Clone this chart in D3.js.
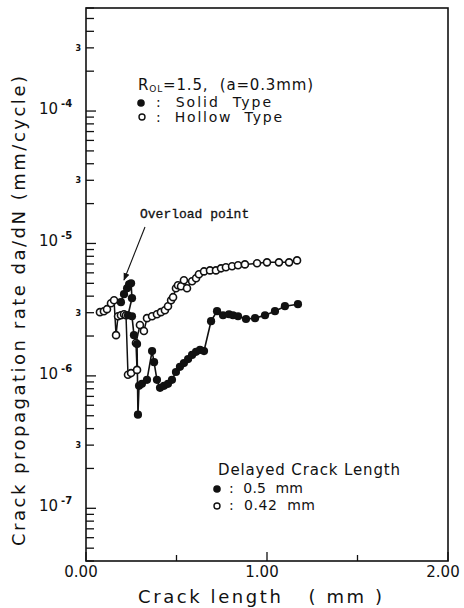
<!DOCTYPE html>
<html>
<head>
<meta charset="utf-8">
<script src="https://cdn.jsdelivr.net/npm/d3@7"></script>
<style>
  body { margin: 0; background: #fff; }
  svg text { font-family: "DejaVu Sans", sans-serif; fill: #111; }
</style>
</head>
<body>
<div id="chart"></div>
<script>
// crack length (mm) and da/dN (mm/cycle)
const hollowLength = [0.077, 0.099, 0.116, 0.138, 0.155, 0.166, 0.177, 0.193, 0.210, 0.221,
    0.232, 0.249, 0.282, 0.276, 0.298, 0.320, 0.337, 0.365, 0.392, 0.414,
    0.436, 0.453, 0.470, 0.481, 0.497, 0.508, 0.525, 0.541, 0.558, 0.586,
    0.608, 0.624, 0.652, 0.685, 0.718, 0.746, 0.773, 0.807, 0.840, 0.878,
    0.945, 1.000, 1.066, 1.122, 1.166];
const hollowRate = [3.03e-6, 3.08e-6, 3.19e-6, 3.54e-6, 3.73e-6, 2.03e-6, 2.82e-6, 2.87e-6, 2.92e-6, 2.87e-6,
    1.02e-6, 1.05e-6, 1.11e-6, 1.77e-6, 2.42e-6, 2.18e-6, 2.73e-6, 2.82e-6, 2.92e-6, 3.03e-6,
    3.13e-6, 3.36e-6, 3.73e-6, 3.93e-6, 4.59e-6, 4.83e-6, 4.75e-6, 5.27e-6, 4.59e-6, 5.18e-6,
    5.46e-6, 5.85e-6, 6.15e-6, 6.26e-6, 6.26e-6, 6.49e-6, 6.61e-6, 6.72e-6, 6.84e-6, 6.95e-6,
    7.08e-6, 7.20e-6, 7.20e-6, 7.20e-6, 7.45e-6];

const solidLength = [0.193, 0.210, 0.227, 0.238, 0.249, 0.254, 0.232, 0.254, 0.265, 0.282,
    0.287, 0.293, 0.309, 0.337, 0.365, 0.376, 0.392, 0.409, 0.431, 0.453,
    0.475, 0.497, 0.519, 0.541, 0.564, 0.586, 0.608, 0.630, 0.652, 0.691,
    0.724, 0.757, 0.790, 0.812, 0.840, 0.884, 0.934, 0.989, 1.044, 1.099, 1.171];
const solidRate = [3.60e-6, 4.14e-6, 4.59e-6, 4.92e-6, 5.00e-6, 3.86e-6, 2.87e-6, 2.82e-6, 2.03e-6, 1.74e-6,
    5.09e-7, 8.41e-7, 8.71e-7, 9.33e-7, 1.54e-6, 1.27e-6, 9.33e-7, 8.13e-7, 8.41e-7, 8.71e-7,
    9.33e-7, 1.07e-6, 1.17e-6, 1.25e-6, 1.34e-6, 1.44e-6, 1.52e-6, 1.57e-6, 1.54e-6, 2.59e-6,
    3.08e-6, 2.87e-6, 2.92e-6, 2.87e-6, 2.82e-6, 2.69e-6, 2.73e-6, 2.87e-6, 3.08e-6, 3.36e-6, 3.48e-6];

const xTickLabels = ["0.00", "1.00", "2.00"];
const xTickValues = [0, 1, 2];
const xMinorTicks = [0.5, 1.5];
const yDecadeExps = [-4, -5, -6, -7];
const yThreeTicks = [3e-4, 3e-5, 3e-6, 3e-7];

const WIDTH = 464;
const HEIGHT = 608;
const LEFT = 86, RIGHT = 448, TOP = 8, BOTTOM = 561;

const svg = d3.select('#chart').append('svg')
    .attr('width', WIDTH)
    .attr('height', HEIGHT);

const x = d3.scaleLinear().domain([0, 2]).range([LEFT, RIGHT]);
const y = d3.scaleLog().domain([4e-8, 6e-4]).range([BOTTOM, TOP]);

// frame
svg.append('rect')
    .attr('x', LEFT).attr('y', TOP)
    .attr('width', RIGHT - LEFT).attr('height', BOTTOM - TOP)
    .attr('fill', 'none').attr('stroke', '#111').attr('stroke-width', 1.6);

// y ticks (inward)
y.ticks().forEach(v => {
    const m = Math.round(v / Math.pow(10, Math.floor(Math.log10(v) + 1e-9)));
    const len = m === 1 ? 10 : 8;
    svg.append('line')
        .attr('x1', LEFT).attr('x2', LEFT + len)
        .attr('y1', y(v)).attr('y2', y(v))
        .attr('stroke', '#111').attr('stroke-width', 1.3);
});

yDecadeExps.forEach(e => {
    svg.append('text')
        .attr('x', 58).attr('y', y(Math.pow(10, e)) + 3)
        .attr('text-anchor', 'end')
        .attr('font-size', 15)
        .text('10');
    svg.append('text')
        .attr('x', 61).attr('y', y(Math.pow(10, e)) - 4)
        .attr('font-size', 10)
        .attr('font-weight', 'bold')
        .text('-' + Math.abs(e));
});

yThreeTicks.forEach(v => {
    svg.append('text')
        .attr('x', 81).attr('y', y(v) + 3)
        .attr('text-anchor', 'end')
        .attr('font-size', 8)
        .attr('font-weight', 'bold')
        .text('3');
});

// x ticks (inward)
xTickValues.forEach(v => {
    svg.append('line')
        .attr('x1', x(v)).attr('x2', x(v))
        .attr('y1', BOTTOM).attr('y2', BOTTOM - 9)
        .attr('stroke', '#111').attr('stroke-width', 1.3);
});
xMinorTicks.forEach(v => {
    svg.append('line')
        .attr('x1', x(v)).attr('x2', x(v))
        .attr('y1', BOTTOM).attr('y2', BOTTOM - 6)
        .attr('stroke', '#111').attr('stroke-width', 1.3);
});
svg.selectAll('.x-label')
    .data(xTickLabels)
    .join('text')
    .attr('class', 'x-label')
    .attr('x', (d, i) => x(xTickValues[i]) - 5)
    .attr('y', 577)
    .attr('text-anchor', 'middle')
    .attr('font-size', 15)
    .text(d => d);

// axis titles
svg.append('text')
    .attr('x', 260).attr('y', 603)
    .attr('text-anchor', 'middle')
    .attr('font-size', 18)
    .style('white-space', 'pre')
    .attr('textLength', 244)
    .attr('lengthAdjust', 'spacing')
    .text('Crack length   ( mm )');

svg.append('text')
    .attr('transform', 'translate(25,311) rotate(-90)')
    .attr('text-anchor', 'middle')
    .attr('font-size', 18)
    .attr('textLength', 470)
    .attr('lengthAdjust', 'spacing')
    .text('Crack propagation rate da/dN (mm/cycle)');

// series
const line = d3.line().x(d => x(d[0])).y(d => y(d[1]));
const hollow = hollowLength.map((v, i) => [v, hollowRate[i]]);
const solid = solidLength.map((v, i) => [v, solidRate[i]]);

svg.append('path').datum(hollow).attr('d', line)
    .attr('fill', 'none').attr('stroke', '#111').attr('stroke-width', 1.5);
svg.append('path').datum(solid).attr('d', line)
    .attr('fill', 'none').attr('stroke', '#111').attr('stroke-width', 1.6);

svg.selectAll('.hollow')
    .data(hollow)
    .join('circle')
    .attr('class', 'hollow')
    .attr('cx', d => x(d[0])).attr('cy', d => y(d[1]))
    .attr('r', 3.5)
    .attr('fill', '#fff').attr('stroke', '#111').attr('stroke-width', 1.6);

svg.selectAll('.solid')
    .data(solid)
    .join('circle')
    .attr('class', 'solid')
    .attr('cx', d => x(d[0])).attr('cy', d => y(d[1]))
    .attr('r', 4.1)
    .attr('fill', '#111');

// overload annotation
svg.append('text')
    .attr('x', 140).attr('y', 218)
    .style('font-family', '"Liberation Mono", monospace')
    .attr('font-size', 13)
    .attr('stroke', '#111').attr('stroke-width', 0.3)
    .text('Overload point');

const defs = svg.append('defs');
defs.append('marker')
    .attr('id', 'arrow')
    .attr('viewBox', '0 0 10 10')
    .attr('refX', 9).attr('refY', 5)
    .attr('markerWidth', 7).attr('markerHeight', 7)
    .attr('orient', 'auto')
    .append('path')
    .attr('d', 'M0,1 L10,5 L0,9 Z')
    .attr('fill', '#111');

svg.append('line')
    .attr('x1', 145).attr('y1', 227)
    .attr('x2', 124).attr('y2', 280)
    .attr('stroke', '#111').attr('stroke-width', 1.1)
    .attr('marker-end', 'url(#arrow)');

// legend 1
const leg1 = svg.append('text').attr('x', 138).attr('y', 90).attr('font-size', 15)
    .style('white-space', 'pre')
    .attr('textLength', 175).attr('lengthAdjust', 'spacing');
leg1.append('tspan').text('R');
leg1.append('tspan').attr('font-size', 9).attr('dy', 2).text('OL');
leg1.append('tspan').attr('dy', -2).text('=1.5,  (a=0.3mm)');

svg.append('circle').attr('cx', 141).attr('cy', 103).attr('r', 3.8).attr('fill', '#111');
svg.append('text').attr('x', 156).attr('y', 107).attr('font-size', 14)
    .style('white-space', 'pre')
    .attr('textLength', 115).attr('lengthAdjust', 'spacing')
    .text(':  Solid  Type');
svg.append('circle').attr('cx', 142).attr('cy', 117).attr('r', 3).attr('fill', '#fff')
    .attr('stroke', '#111').attr('stroke-width', 1.4);
svg.append('text').attr('x', 156).attr('y', 122).attr('font-size', 14)
    .style('white-space', 'pre')
    .attr('textLength', 126).attr('lengthAdjust', 'spacing')
    .text(':  Hollow  Type');

// legend 2
svg.append('text').attr('x', 218).attr('y', 475).attr('font-size', 15)
    .attr('textLength', 182).attr('lengthAdjust', 'spacing')
    .text('Delayed Crack Length');
svg.append('circle').attr('cx', 217).attr('cy', 489).attr('r', 3.8).attr('fill', '#111');
svg.append('text').attr('x', 229).attr('y', 493).attr('font-size', 14)
    .style('white-space', 'pre')
    .attr('textLength', 74).attr('lengthAdjust', 'spacing')
    .text(':  0.5  mm');
svg.append('circle').attr('cx', 217).attr('cy', 506).attr('r', 3).attr('fill', '#fff')
    .attr('stroke', '#111').attr('stroke-width', 1.4);
svg.append('text').attr('x', 229).attr('y', 510).attr('font-size', 14)
    .style('white-space', 'pre')
    .attr('textLength', 86).attr('lengthAdjust', 'spacing')
    .text(':  0.42  mm');
</script>
</body>
</html>
